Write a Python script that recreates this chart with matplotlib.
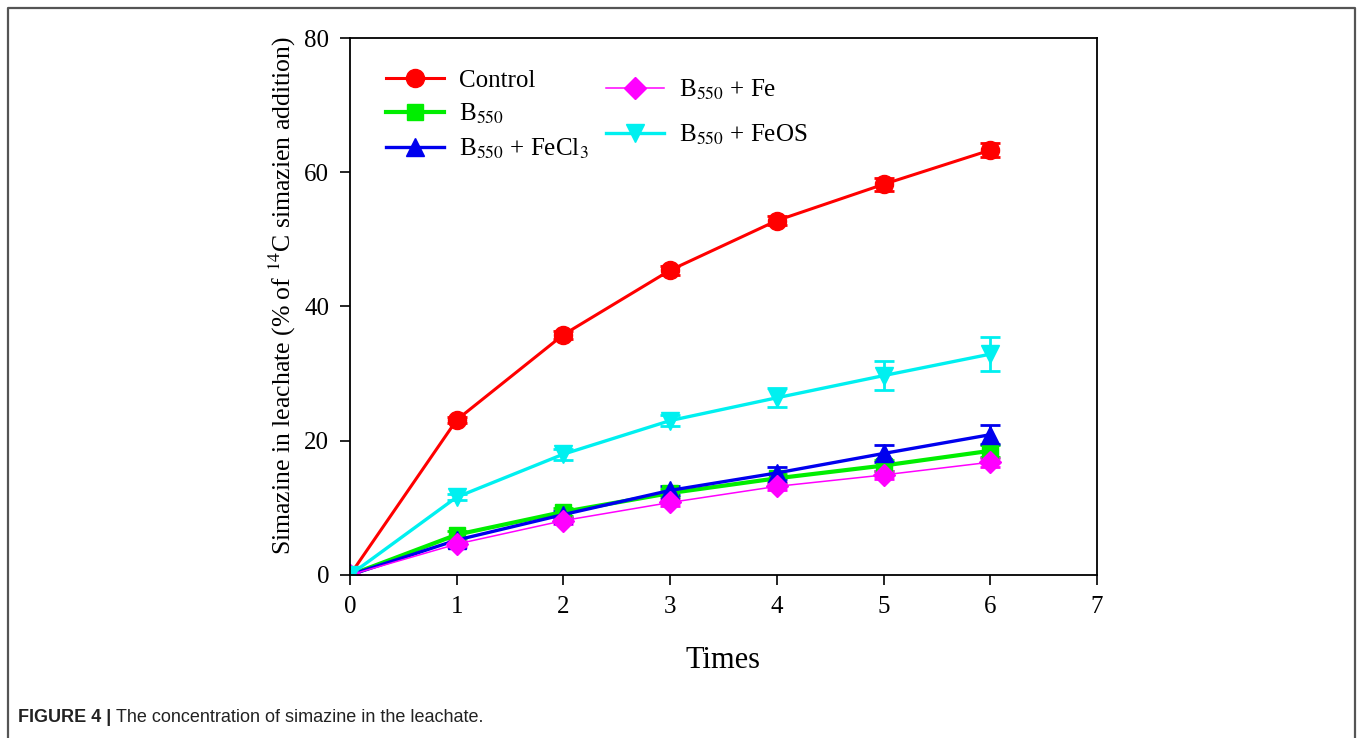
import numpy as np
import matplotlib.pyplot as plt
from matplotlib.lines import Line2D

plt.rcParams['font.family'] = 'serif'
plt.rcParams['font.serif'] = ['Liberation Serif', 'DejaVu Serif']
plt.rcParams['mathtext.fontset'] = 'stix'

# data
times = [0, 1, 2, 3, 4, 5, 6]
control = [0, 23.1, 35.8, 45.4, 52.8, 58.2, 63.3]
control_err = [0, 0.5, 0.6, 0.7, 0.7, 1.0, 1.1]
b550 = [0, 6.0, 9.4, 12.2, 14.4, 16.3, 18.5]
b550_err = [0, 0.5, 0.6, 0.6, 0.7, 0.8, 0.9]
b550_fecl3 = [0, 5.2, 9.0, 12.6, 15.2, 18.1, 20.9]
b550_fecl3_err = [0, 0.4, 0.5, 0.7, 0.9, 1.2, 1.4]
b550_fe = [0, 4.6, 8.1, 10.8, 13.2, 14.9, 16.8]
b550_fe_err = [0, 0.4, 0.5, 0.5, 0.6, 0.6, 0.7]
b550_feos = [0, 11.6, 18.0, 23.0, 26.4, 29.7, 32.9]
b550_feos_err = [0, 0.5, 0.8, 0.8, 1.4, 2.2, 2.5]

fig = plt.figure(figsize=(13.58, 7.38), dpi=100)
ax = fig.add_axes([0.2577, 0.2209, 0.5501, 0.7276])

series = [
    (control, control_err, 'Control', '#ff0000', 'o', 13, 2.2),
    (b550, b550_err, r'B$_{550}$', '#00ee00', 's', 11, 3.0),
    (b550_fecl3, b550_fecl3_err, r'B$_{550}$ + FeCl$_3$', '#0000ee', '^', 13, 2.4),
    (b550_fe, b550_fe_err, r'B$_{550}$ + Fe', '#ff00ff', 'D', 11, 1.1),
    (b550_feos, b550_feos_err, r'B$_{550}$ + FeOS', '#00f0f0', 'v', 13, 2.4),
]

handles = []
for vals, err, name, col, mk, ms, lw in series:
    ax.errorbar(times, vals, yerr=err, color=col, marker=mk, markersize=ms, lw=lw,
                elinewidth=2, capsize=7, capthick=2)
    handles.append(Line2D([], [], color=col, marker=mk, markersize=ms, lw=lw, label=name))

ax.set_xlim(0, 7)
ax.set_ylim(0, 80)
ax.set_xticks(range(0, 8))
ax.set_yticks([0, 20, 40, 60, 80])
ax.tick_params(direction='out', length=7, width=1.2, labelsize=18, pad=8)
for s in ax.spines.values():
    s.set_linewidth(1.3)
ax.set_xlabel('Times', fontsize=22, labelpad=20)
ax.set_ylabel(r'Simazine in leachate (% of $^{14}$C simazien addition)', fontsize=18.5)
ax.yaxis.set_label_coords(-0.07, 0.52)

leg1 = ax.legend(handles=handles[:3], loc='upper left', bbox_to_anchor=(0.035, 0.96),
                 frameon=False, fontsize=18, handlelength=2.3, handletextpad=0.6,
                 labelspacing=0.4, borderaxespad=0)
ax.add_artist(leg1)
ax.legend(handles=handles[3:], loc='upper left', bbox_to_anchor=(0.33, 0.945),
          frameon=False, fontsize=18, handlelength=2.3, handletextpad=0.6,
          labelspacing=0.85, borderaxespad=0)

# outer frame of the figure panel (open at the bottom)
x0, x1, y1 = 8 / 1358, 1355 / 1358, 1 - 8 / 738
fig.add_artist(Line2D([x0, x0, x1, x1], [0, y1, y1, 0], color='#555555', lw=1.6,
                      transform=fig.transFigure))

cap_y = 1 - 718 / 738
t1 = fig.text(18 / 1358, cap_y, 'FIGURE 4 |', fontsize=13, fontweight='bold',
              family='Liberation Sans', va='center', ha='left', color='#222222')
fig.canvas.draw()
bb = t1.get_window_extent()
fig.text((bb.x1 + 5) / 1358, cap_y, 'The concentration of simazine in the leachate.',
         fontsize=13, family='Liberation Sans', va='center', ha='left', color='#222222')

fig.savefig('out.png', dpi=100)
